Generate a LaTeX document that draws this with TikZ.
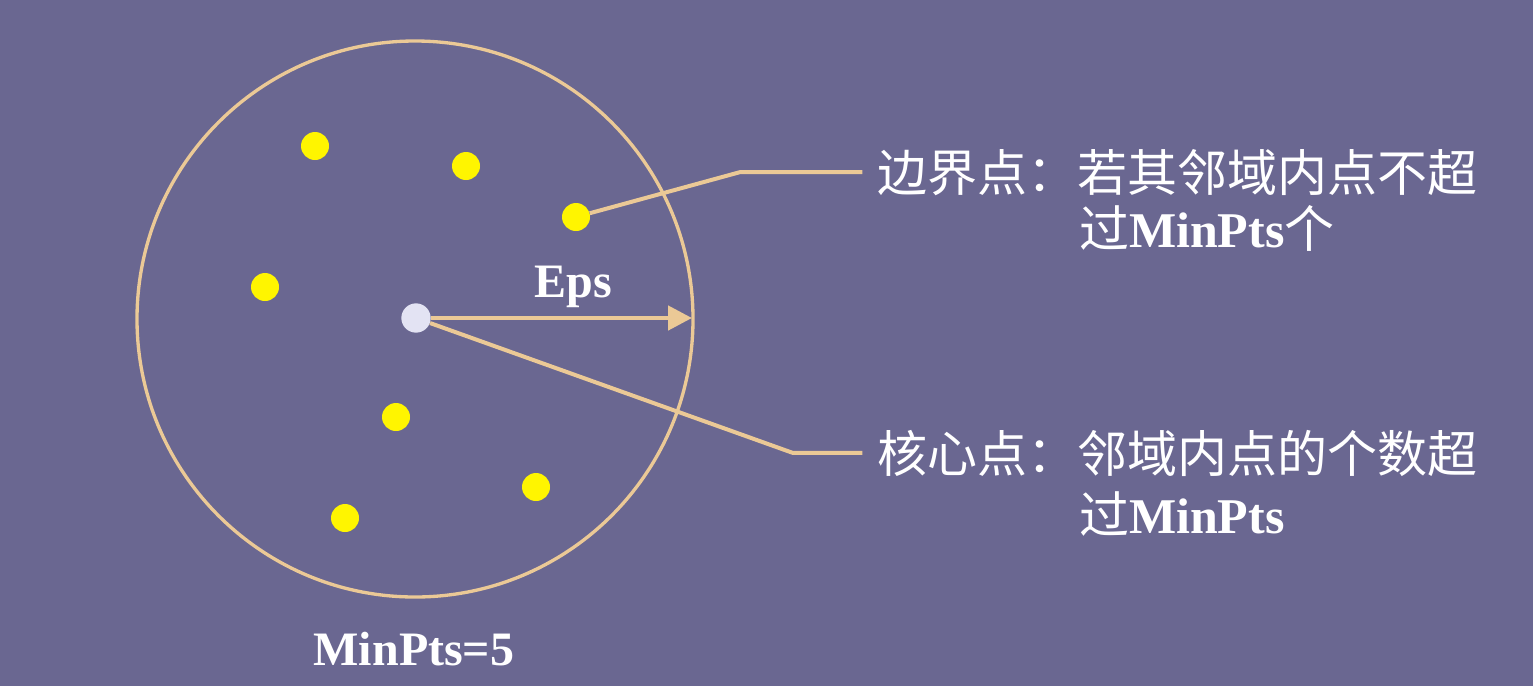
\documentclass[tikz,border=0pt]{standalone}
\usepackage{fontspec}
\setmainfont{Liberation Serif}
\newfontfamily\cjk{Noto Sans CJK SC}
\usetikzlibrary{arrows.meta}
\definecolor{bgc}{HTML}{6A6791}
\definecolor{tanc}{HTML}{EBC996}
\definecolor{ylw}{HTML}{FFF500}
\definecolor{corec}{HTML}{E3E3F3}
\tikzset{
  dotp/.style={circle, fill=ylw, minimum size=21pt, inner sep=0pt},
  corep/.style={circle, fill=corec, minimum size=22pt, inner sep=0pt},
  conn/.style={draw=tanc, line width=3pt},
  lbl/.style={text=white, inner sep=0pt, outer sep=0pt, font=\fontsize{37.5pt}{45pt}\selectfont},
  latin/.style={text=white, inner sep=0pt, font=\fontsize{36pt}{43pt}\selectfont\bfseries},
}
\begin{document}
\begin{tikzpicture}[x=0.75pt,y=-0.75pt]
\fill[bgc] (0,0) rectangle (1533,686);
\useasboundingbox (0,0) rectangle (1533,686);
% neighbourhood circle
\node[circle, draw=tanc, line width=2.5pt, minimum size=417pt, inner sep=0pt] (nb) at (415,319) {};
% points
\node[dotp] (p1) at (315,146) {};
\node[dotp] (p2) at (466,166) {};
\node[dotp] (p3) at (576,217) {};
\node[dotp] (p4) at (265,287) {};
\node[dotp] (p5) at (396,417) {};
\node[dotp] (p6) at (536,487) {};
\node[dotp] (p7) at (345,518) {};
\node[corep] (core) at (416,318) {};
% labels
\node[lbl, anchor=base west] (b1) at (877,191) {\cjk 边界点：若其邻域内点不超};
\node[lbl, anchor=base west] (b2) at (1079,247) {\cjk 过{\rmfamily\bfseries MinPts}个};
\node[lbl, anchor=base west] (c1) at (877,472) {\cjk 核心点：邻域内点的个数超};
\node[lbl, anchor=base west] (c2) at (1079,533) {\cjk 过{\rmfamily\bfseries MinPts}};
\node[latin, anchor=base] (eps) at (573,297) {Eps};
\node[latin, anchor=base] (mp) at (414,665) {MinPts=5};
% connectors
\coordinate (k1) at (740,170);
\coordinate (k2) at (793,458);
\coordinate (epsend) at (692,318);
\draw[conn, shorten >=11pt] (p3) -- (k1 |- b1.west) -- (b1.west);
\draw[conn, shorten >=11pt] (core) -- (k2 |- c1.west) -- (c1.west);
\draw[conn, line width=3.5pt, -{Triangle[length=18pt,width=18pt]}] (core) -- (epsend);
\end{tikzpicture}
\end{document}
